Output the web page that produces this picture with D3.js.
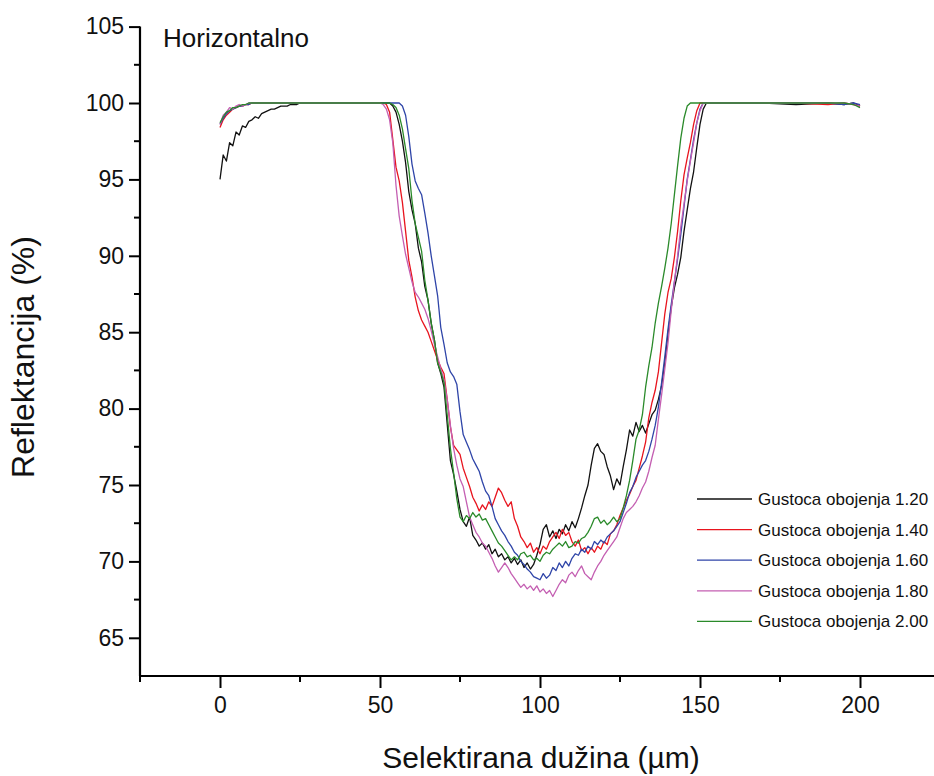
<!DOCTYPE html>
<html><head><meta charset="utf-8">
<script src="https://cdn.jsdelivr.net/npm/d3@7"></script>
<style>
body{margin:0;background:#fff;}
svg{display:block;font-family:"Liberation Sans",Arial,sans-serif;}
</style></head>
<body><svg id="c" width="934" height="776"></svg>
<script>
// Sampling grid (µm)
const xs = [...d3.range(0, 26), 30, 35, 40, 45, ...d3.range(50, 154), 160, 170, 180, 190, 195, 198, 200];

const labels = ["Gustoca obojenja 1.20","Gustoca obojenja 1.40","Gustoca obojenja 1.60","Gustoca obojenja 1.80","Gustoca obojenja 2.00"];
const colors = ["#111111","#e8141e","#2f45a8","#c45fb2","#2a8a2a"];

const d120 = [
 95.0,96.6,96.2,97.4,97.2,98.1,97.9,98.5,98.4,98.8,98.9,99.1,99.0,99.3,99.4,99.5,99.6,99.6,99.7,99.8,99.8,99.8,99.9,99.9,99.9,100,
 100,100,100,100,
 100,100,100,100,99.8,99.4,98.6,97.5,96.1,94.2,
 93.0,92.1,90.5,89.6,88.0,87.1,85.6,84.5,83.0,82.3,
 81.4,79.0,76.6,75.7,74.6,73.4,72.6,72.3,72.9,71.7,
 71.4,71.0,71.2,70.8,71.1,70.5,70.8,70.3,70.5,70.1,
 70.3,69.9,70.2,69.8,70.1,69.6,69.9,69.5,69.8,70.4,
 71.1,72.1,72.4,71.6,72.0,71.5,72.1,71.8,72.4,72.0,
 72.6,72.2,72.8,73.5,74.3,75.0,76.3,77.4,77.7,77.2,
 77.0,76.2,75.6,74.7,75.4,75.0,76.2,77.3,78.6,78.2,
 79.1,78.5,78.9,78.4,79.0,79.6,79.9,80.6,81.5,83.0,
 84.9,86.6,87.9,88.8,89.9,91.6,93.0,94.4,95.5,97.1,
 98.6,99.6,100,100,
 100,100,99.9,100,99.9,100,99.8];
const d140 = [
 98.4,98.9,99.2,99.4,99.6,99.7,99.8,99.8,99.9,99.9,100,100,100,100,100,100,100,100,100,100,100,100,100,100,100,100,
 100,100,100,100,
 100,100,99.9,99.4,97.6,95.8,94.9,93.5,91.6,89.7,
 88.6,87.3,86.4,85.8,85.4,85.0,84.4,83.8,83.2,82.7,
 82.3,80.6,78.8,77.6,77.3,77.0,76.1,75.5,74.9,74.2,
 73.8,73.3,73.7,73.4,73.9,73.6,74.2,74.8,74.5,74.0,
 73.6,73.9,72.8,72.3,71.6,71.3,70.9,71.2,70.6,70.9,
 70.5,71.0,70.8,71.3,71.6,71.9,71.5,72.1,71.7,71.9,
 71.3,71.0,71.4,70.7,70.9,70.5,70.9,70.6,71.0,70.8,
 71.3,71.1,71.8,72.0,72.4,73.0,73.5,74.0,74.4,74.9,
 75.3,76.1,76.9,77.8,79.4,80.4,81.2,82.4,84.3,86.2,
 87.6,88.5,89.9,91.6,93.6,95.3,96.4,97.4,98.6,99.5,
 100,100,100,100,
 100,100,100,99.9,100,99.9,99.8];
const d160 = [
 98.6,99.0,99.3,99.5,99.6,99.7,99.8,99.8,99.9,99.9,100,100,100,100,100,100,100,100,100,100,100,100,100,100,100,100,
 100,100,100,100,
 100,100,100,100,100,100,100,99.8,99.2,97.8,
 96.0,94.9,94.4,94.0,92.8,91.5,90.0,88.7,87.4,85.3,
 84.2,83.0,82.4,82.1,81.6,79.8,78.3,77.8,77.3,76.7,
 76.3,75.9,75.2,74.6,74.3,73.6,72.8,72.4,72.0,71.7,
 71.3,71.0,70.6,70.4,70.0,69.8,69.5,69.3,69.0,68.9,
 68.8,69.2,68.9,69.1,69.6,69.4,69.9,69.6,70.0,69.7,
 70.2,70.5,70.4,70.8,70.6,71.0,70.8,71.3,71.1,71.4,
 71.2,71.6,71.8,72.0,72.3,72.6,73.2,73.8,74.5,74.9,
 75.5,75.9,76.3,76.6,77.2,78.0,78.9,80.1,81.7,83.4,
 85.2,86.8,88.3,89.8,91.4,93.2,95.0,96.3,97.6,98.7,
 99.6,100,100,100,
 100,100,100,100,99.9,100,99.9];
const d180 = [
 98.6,99.2,99.4,99.7,99.6,99.8,99.9,99.8,99.9,100,100,100,100,100,100,100,100,100,100,100,100,100,100,100,100,100,
 100,100,100,100,
 100,99.9,99.6,98.9,97.4,94.6,92.6,91.3,90.1,89.2,
 88.3,87.6,87.3,86.9,86.5,85.9,85.1,84.2,83.4,82.6,
 81.9,80.6,78.9,77.4,76.3,75.4,74.9,73.9,72.9,72.4,
 71.9,71.6,71.2,71.0,70.6,70.2,69.7,69.3,69.6,69.9,
 69.6,69.2,68.9,68.6,68.3,68.5,68.2,68.4,68.1,68.4,
 68.0,68.2,67.9,68.1,67.7,68.1,68.5,68.8,68.6,69.1,
 69.3,69.0,69.4,69.7,69.2,69.0,68.8,69.3,69.7,70.0,
 70.4,70.7,71.0,71.3,71.6,72.2,72.8,73.2,73.4,73.6,
 73.9,74.3,74.8,75.2,75.9,76.8,77.6,79.3,80.9,82.6,
 84.3,86.4,88.3,90.0,91.9,93.4,94.9,96.2,97.4,98.7,
 99.5,100,100,100,
 100,100,100,100,100,99.9,99.8];
const d200 = [
 98.7,99.1,99.4,99.5,99.7,99.7,99.8,99.9,99.9,100,100,100,100,100,100,100,100,100,100,100,100,100,100,100,100,100,
 100,100,100,100,
 100,100,100,100,99.9,99.7,99.2,98.3,97.0,95.7,
 93.6,92.1,91.2,90.3,88.4,87.1,85.6,84.5,83.0,82.4,
 81.7,79.6,77.4,75.8,74.1,72.9,72.6,73.0,72.8,73.2,
 72.9,73.1,72.7,72.8,72.4,72.0,71.6,71.2,71.0,70.7,
 70.4,70.1,70.3,70.1,70.5,70.6,70.3,70.4,70.1,70.2,
 70.0,70.4,70.6,70.5,70.8,71.0,71.2,71.0,71.3,70.9,
 71.0,71.3,71.2,71.5,71.6,71.9,72.3,72.8,72.9,72.5,
 72.7,72.4,72.6,72.9,72.6,72.8,73.5,74.3,75.3,76.6,
 78.0,78.6,79.6,81.4,82.8,84.0,85.6,86.9,88.0,89.2,
 90.5,92.1,94.0,95.9,97.7,99.0,99.8,100,100,100,
 100,100,100,100,
 100,100,100,100,100,99.9,99.7];
const seriesValues = [d120, d140, d160, d180, d200];

const xTicks = [0, 50, 100, 150, 200];
const xMinor = [-25, 25, 75, 125, 175, 225];
const yTicks = [65, 70, 75, 80, 85, 90, 95, 100, 105];
const yMinor = [67.5, 72.5, 77.5, 82.5, 87.5, 92.5, 97.5, 102.5];

const svg = d3.select("#c");
const x = d3.scaleLinear().domain([-25, 225]).range([140, 940]);
const y = d3.scaleLinear().domain([62.5, 105]).range([676, 26.6]);

// lines
const line = d3.line().x((d, i) => x(xs[i])).y(d => y(d));
[0, 1, 2, 3, 4].forEach(k => {
  svg.append("path").datum(seriesValues[k])
    .attr("d", line).attr("fill", "none")
    .attr("stroke", colors[k]).attr("stroke-width", 1.3)
    .attr("stroke-linejoin", "round");
});

// axes
const yAxis = d3.axisLeft(y).tickValues(yTicks).tickSize(11).tickPadding(5).tickFormat(d3.format("d"));
const gy = svg.append("g").attr("transform", "translate(140,0)").call(yAxis);
gy.select(".domain").attr("stroke-width", 2.2).attr("d", `M0,${y(105)}V${y(62.5)}`);
gy.selectAll(".tick line").attr("stroke-width", 2);
gy.selectAll(".tick text").attr("font-size", 23).attr("fill", "#111");
gy.selectAll(".minor").data(yMinor).enter().append("line")
  .attr("x1", -6).attr("x2", 0).attr("y1", d => y(d)).attr("y2", d => y(d))
  .attr("stroke", "#000").attr("stroke-width", 2);

const xAxis = d3.axisBottom(x).tickValues(xTicks).tickSize(12).tickPadding(9).tickFormat(d3.format("d"));
const gx = svg.append("g").attr("transform", "translate(0,676)").call(xAxis);
gx.select(".domain").attr("stroke-width", 2.2).attr("d", `M${x(-25)},0H${x(225)}`);
gx.selectAll(".tick line").attr("stroke-width", 2);
gx.selectAll(".tick text").attr("font-size", 23).attr("fill", "#111");
gx.selectAll(".minor").data(xMinor).enter().append("line")
  .attr("x1", d => x(d)).attr("x2", d => x(d)).attr("y1", 0).attr("y2", 6)
  .attr("stroke", "#000").attr("stroke-width", 2);

// titles
svg.append("text").attr("x", 541).attr("y", 768).attr("text-anchor", "middle")
  .attr("font-size", 30).attr("fill", "#111").text("Selektirana dužina (µm)");
svg.append("text").attr("transform", "translate(34,357) rotate(-90)").attr("text-anchor", "middle")
  .attr("font-size", 32).attr("fill", "#111").text("Reflektancija (%)");
svg.append("text").attr("x", 163).attr("y", 47).attr("font-size", 26).attr("fill", "#111").text("Horizontalno");

// legend
const leg = svg.append("g");
labels.forEach((lab, i) => {
  const yy = 499 + i * 30.6;
  leg.append("line").attr("x1", 697).attr("x2", 752).attr("y1", yy).attr("y2", yy)
    .attr("stroke", colors[i]).attr("stroke-width", 1.3);
  leg.append("text").attr("x", 758).attr("y", yy + 6).attr("font-size", 17).attr("fill", "#111").text(lab);
});
</script></body></html>
